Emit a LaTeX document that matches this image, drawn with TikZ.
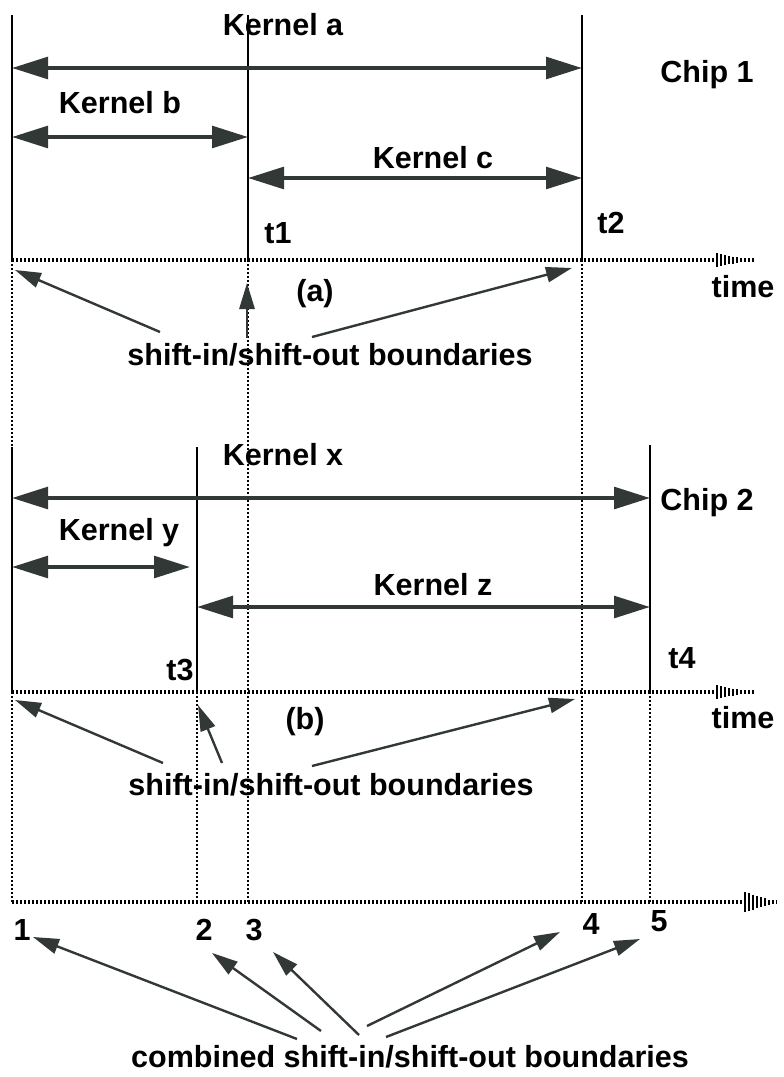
\documentclass[tikz,border=0pt]{standalone}
\usepackage{fontspec}
\setmainfont{Liberation Sans}
\usetikzlibrary{arrows.meta}
\definecolor{headgray}{RGB}{50,56,54}
\begin{document}
\begin{tikzpicture}[x=0.25mm,y=-0.25mm,
    lbl/.style={font=\fontsize{21.7pt}{24pt}\selectfont\bfseries,inner sep=0pt},
    bound/.style={line width=0.5mm},
    guide/.style={line width=0.6mm,dash pattern=on 0.4mm off 0.6mm},
    axis/.style={line width=1.2mm,dash pattern=on 0.4mm off 0.6mm},
    span/.style={line width=1mm,draw=headgray,
      {Triangle[length=9mm,width=5.4mm]}-{Triangle[length=9mm,width=5.4mm]}},
    point/.style={line width=0.6mm,draw=headgray,
      -{Triangle[length=6.5mm,width=3.8mm]}}]
  \useasboundingbox (0,0) rectangle (783,1077);
  \path
    (12,15) coordinate (a0t) (12,260) coordinate (a0)
    (248,15) coordinate (a1t) (248,260) coordinate (a1)
    (582,15) coordinate (a2t) (582,260) coordinate (a2)
    (755,260) coordinate (ae)
    (12,447) coordinate (b0t) (12,692) coordinate (b0)
    (197,447) coordinate (b1t) (197,692) coordinate (b1)
    (650,445) coordinate (b2t) (650,692) coordinate (b2)
    (755,692) coordinate (be)
    (12,902) coordinate (c1) (197,902) coordinate (c2)
    (248,902) coordinate (c3) (582,902) coordinate (c4)
    (650,902) coordinate (c5) (777,902) coordinate (ce);
  \draw[guide] (a0) -- (c1);
  \draw[guide] (a1) -- (c3);
  \draw[guide] (a2) -- (c4);
  \draw[guide] (b1) -- (c2);
  \draw[guide] (b2) -- (c5);
  \draw[axis] (a0) -- (ae);
  \draw[axis] (b0) -- (be);
  \draw[axis] (c1) -- (ce);
  \foreach \ya/\xh/\h in {260/717/7,692/717/7,902/745/10}
    \foreach \k in {0,...,7}
      \draw[line width=0.45mm] ({\xh+4*\k},{\ya-\h+\k*\h/8}) -- ({\xh+4*\k},{\ya+\h-\k*\h/8});
  \draw[bound] (a0t) -- (a0);
  \draw[bound] (a1t) -- (a1);
  \draw[bound] (a2t) -- (a2);
  \draw[bound] (b0t) -- (b0);
  \draw[bound] (b1t) -- (b1);
  \draw[bound] (b2t) -- (b2);
  \path
    (283,25) node[lbl] (ka) {Kernel a}
    (120,103) node[lbl] (kb) {Kernel b}
    (433,158) node[lbl] (kc) {Kernel c}
    (278,233) node[lbl] (t1) {t1}
    (611,223) node[lbl] (t2) {t2}
    (707,75) node[lbl] (chip1) {Chip 1}
    (743,287) node[lbl] (timea) {time}
    (315,294) node[lbl] (capa) {(a)}
    (330,355) node[lbl] (sa) {shift-in/shift-out boundaries}
    (283,455) node[lbl] (kx) {Kernel x}
    (119,533) node[lbl] (ky) {Kernel y}
    (433,585) node[lbl] (kz) {Kernel z}
    (707,503) node[lbl] (chip2) {Chip 2}
    (180,670) node[lbl] (t3) {t3}
    (682,658) node[lbl] (t4) {t4}
    (743,718) node[lbl] (timeb) {time}
    (305,722) node[lbl] (capb) {(b)}
    (331,785) node[lbl] (sb) {shift-in/shift-out boundaries}
    (22,930) node[lbl] (n1) {1}
    (204,930) node[lbl] (n2) {2}
    (254,930) node[lbl] (n3) {3}
    (591,924) node[lbl] (n4) {4}
    (659,921) node[lbl] (n5) {5}
    (410,1057) node[lbl] (sc) {combined shift-in/shift-out boundaries};
  \path
    (12,68) coordinate (ka0) (582,68) coordinate (ka1)
    (12,137) coordinate (kb0) (248,137) coordinate (kb1)
    (248,178) coordinate (kc0) (582,178) coordinate (kc1)
    (12,498) coordinate (kx0) (650,498) coordinate (kx1)
    (12,567) coordinate (ky0) (190,567) coordinate (ky1)
    (197,607) coordinate (kz0) (650,607) coordinate (kz1);
  \draw[span] (ka0) -- (ka1);
  \draw[span] (kb0) -- (kb1);
  \draw[span] (kc0) -- (kc1);
  \draw[span] (kx0) -- (kx1);
  \draw[span] (ky0) -- (ky1);
  \draw[span] (kz0) -- (kz1);
  \path
    (160,332) coordinate (sa1) (247,338) coordinate (sa2) (312,337) coordinate (sa3)
    (15,270) coordinate (ta1) (247,283) coordinate (ta2) (572,268) coordinate (ta3)
    (163,763) coordinate (sb1) (222,763) coordinate (sb2) (312,766) coordinate (sb3)
    (15,700) coordinate (tb1) (198,705) coordinate (tb2) (575,699) coordinate (tb3)
    (297,1039) coordinate (sc1) (321,1031) coordinate (sc2) (359,1035) coordinate (sc3)
    (367,1026) coordinate (sc4) (386,1037) coordinate (sc5)
    (33,937) coordinate (tc1) (212,953) coordinate (tc2) (273,952) coordinate (tc3)
    (560,932) coordinate (tc4) (640,939) coordinate (tc5);
  \draw[point] (sa1) -- (ta1);
  \draw[point] (sa2) -- (ta2);
  \draw[point] (sa3) -- (ta3);
  \draw[point] (sb1) -- (tb1);
  \draw[point] (sb2) -- (tb2);
  \draw[point] (sb3) -- (tb3);
  \draw[point] (sc1) -- (tc1);
  \draw[point] (sc2) -- (tc2);
  \draw[point] (sc3) -- (tc3);
  \draw[point] (sc4) -- (tc4);
  \draw[point] (sc5) -- (tc5);
\end{tikzpicture}
\end{document}
